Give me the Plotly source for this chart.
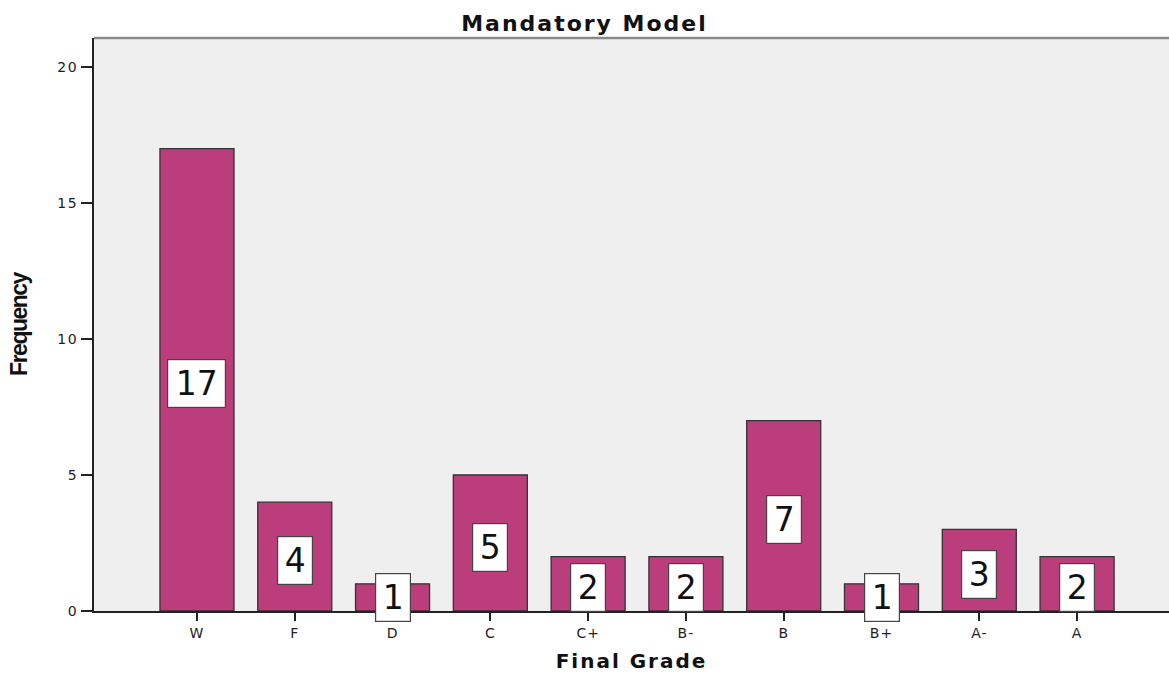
import plotly.graph_objects as go

grades = ["W", "F", "D", "C", "C+", "B-", "B", "B+", "A-", "A"]
counts = [17, 4, 1, 5, 2, 2, 7, 1, 3, 2]
y_ticks = [0, 5, 10, 15, 20]

BAR_COLOR = "#bc3d7b"
EDGE = "#333333"
WIDE = "DejaVu Sans, Verdana, sans-serif"


def spaced(text, px):
    return f'<span style="letter-spacing:{px}px">{text}</span>'


fig = go.Figure()
fig.add_trace(go.Bar(
    x=grades,
    y=counts,
    width=0.757,
    marker=dict(color=BAR_COLOR, line=dict(color=EDGE, width=1.3)),
    hoverinfo="x+y",
))

# value boxes near the middle of each bar
for g, c in zip(grades, counts):
    txt = str(c)
    fig.add_annotation(
        x=g, y=c / 2, xref="x", yref="y",
        text=txt, showarrow=False,
        font=dict(family=WIDE, size=33, color="#111111"),
        bgcolor="white", bordercolor="#444444", borderwidth=1.2,
        width=43 if len(txt) > 1 else 20, height=33, borderpad=7,
        xanchor="center", yanchor="middle",
        yshift=-4 if c > 1 else 0,
    )

# top frame line of the plot area
fig.add_shape(type="line", xref="paper", yref="paper", x0=0, x1=1, y0=1, y1=1,
              line=dict(color="#8a8a8a", width=2.5))

fig.update_layout(
    width=1169, height=673,
    margin=dict(l=94, r=0, t=38, b=62),
    paper_bgcolor="white",
    plot_bgcolor="#efefef",
    showlegend=False,
    title=dict(text="<b>" + spaced("Mandatory Model", 2) + "</b>",
               x=0.5, xanchor="center", xref="container",
               y=1 - 23 / 673, yanchor="middle",
               font=dict(family=WIDE, size=22, color="#111111")),
    font=dict(family=WIDE, color="#222222"),
)

fig.update_xaxes(
    type="category",
    range=[-1.053, 9.94],
    tickvals=grades,
    ticktext=[spaced(g, 1) for g in grades],
    showline=True, linecolor="#222222", linewidth=1.5,
    ticks="outside", ticklen=8, tickcolor="#222222", tickwidth=2,
    tickfont=dict(family=WIDE, size=14, color="#222222"),
    showgrid=False, zeroline=False,
    title=dict(text="<b>" + spaced("Final Grade", 2) + "</b>", standoff=15,
               font=dict(family=WIDE, size=20, color="#111111")),
)
fig.update_yaxes(
    range=[0, 21.07],
    tickvals=y_ticks,
    ticktext=[spaced(str(v), 1.5) for v in y_ticks],
    showline=True, linecolor="#222222", linewidth=2,
    ticks="outside", ticklen=11, tickcolor="#222222", tickwidth=2,
    tickfont=dict(family=WIDE, size=14, color="#222222"),
    showgrid=False, zeroline=False,
    title=dict(text="<b>" + spaced("Frequency", -1.5) + "</b>", standoff=23,
               font=dict(family="Liberation Sans, Arial, sans-serif", size=23, color="#111111")),
)

fig.write_html("out.html")
